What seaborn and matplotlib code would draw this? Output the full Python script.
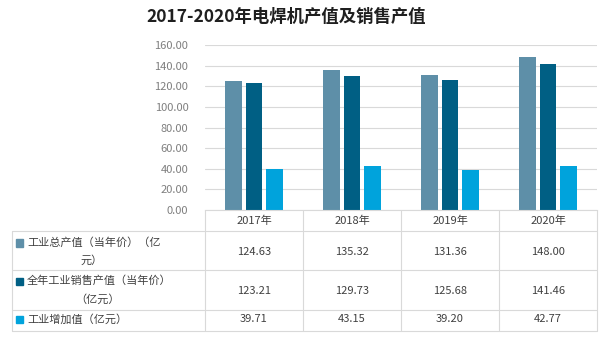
import matplotlib
matplotlib.use("Agg")
import matplotlib.pyplot as plt
from matplotlib.lines import Line2D
from matplotlib.patches import Rectangle
import seaborn as sns
import pandas as pd

years = ["2017年", "2018年", "2019年", "2020年"]
series_names = ["工业总产值（当年价）（亿元）", "全年工业销售产值（当年价）（亿元）", "工业增加值（亿元）"]
gross_output = [124.63, 135.32, 131.36, 148.00]
sales_output = [123.21, 129.73, 125.68, 141.46]
added_value = [39.71, 43.15, 39.20, 42.77]
label_lines = [["工业总产值（当年价）（亿", "元）"],
               ["全年工业销售产值（当年价）", "（亿元）"],
               ["工业增加值（亿元）"]]
colors = ["#5E8FA8", "#005F84", "#00A3DC"]
yticks = [0, 20, 40, 60, 80, 100, 120, 140, 160]

sns.set_theme(style="white")
plt.rcParams["font.family"] = ["Noto Sans CJK SC", "DejaVu Sans"]

W, H = 600, 337
fig = plt.figure(figsize=(6, 3.37), dpi=100)

def fx(x):
    return x / W

def fy(y):
    return 1 - y / H

ax = fig.add_axes([fx(205), fy(210), fx(597) - fx(205), fy(45) - fy(210)])

all_vals = [gross_output, sales_output, added_value]
rows = []
for name, vals in zip(series_names, all_vals):
    for yr, v in zip(years, vals):
        rows.append({"year": yr, "series": name, "value": v})
df = pd.DataFrame(rows)

sns.barplot(data=df, x="year", y="value", hue="series", palette=colors,
            saturation=1, width=0.64, gap=0.19, linewidth=0, legend=False,
            errorbar=None, ax=ax)

ax.set_xlim(-0.5, 3.5)
ax.set_ylim(0, 160)
ax.set_yticks(yticks)
ax.set_yticklabels([f"{t:.2f}" for t in yticks], color="#7F7F7F", fontsize=8)
ax.tick_params(axis="y", length=0, pad=12)
ax.tick_params(axis="x", length=0, pad=4, labelsize=8, labelcolor="#404040")
ax.set_xlabel("")
ax.set_ylabel("")
ax.yaxis.grid(True, color="#D9D9D9", linewidth=0.8)
ax.set_axisbelow(True)
for s in ["left", "right", "top"]:
    ax.spines[s].set_visible(False)
ax.spines["bottom"].set_color("#D9D9D9")
ax.spines["bottom"].set_linewidth(0.8)

fig.text(fx(286), fy(17), "2017-2020年电焊机产值及销售产值", ha="center", va="center",
         fontsize=12.5, fontweight="bold", color="#1F1F1F")

# Data table lines
lc = "#D9D9D9"
col_x = [205, 303, 401, 499, 597]
for x in col_x:
    fig.add_artist(Line2D([fx(x), fx(x)], [fy(210), fy(331)], color=lc, lw=0.8))
fig.add_artist(Line2D([fx(12), fx(12)], [fy(231), fy(331)], color=lc, lw=0.8))
for y in [231, 270, 310, 331]:
    fig.add_artist(Line2D([fx(12), fx(597)], [fy(y), fy(y)], color=lc, lw=0.8))

row_val_y = [252, 291, 319]
row_label_y = [[243, 260], [281, 299], [319]]
line2_x = [92, 98]
centers = [(col_x[i] + col_x[i + 1]) / 2 for i in range(4)]
tc = "#404040"
for r, (vals, lines) in enumerate(zip(all_vals, label_lines)):
    for c, v in enumerate(vals):
        fig.text(fx(centers[c]), fy(row_val_y[r]), f"{v:.2f}", ha="center", va="center",
                 fontsize=8, color=tc)
    ly = row_label_y[r]
    fig.add_artist(Rectangle((fx(16), fy(ly[0] + 3.5)), fx(7), fy(0) - fy(7),
                             color=colors[r], transform=fig.transFigure))
    fig.text(fx(27), fy(ly[0]), lines[0], ha="left", va="center", fontsize=8, color=tc)
    if len(lines) > 1:
        fig.text(fx(line2_x[r]), fy(ly[1]), lines[1], ha="center", va="center",
                 fontsize=8, color=tc)

fig.savefig("out.png", dpi=100)
